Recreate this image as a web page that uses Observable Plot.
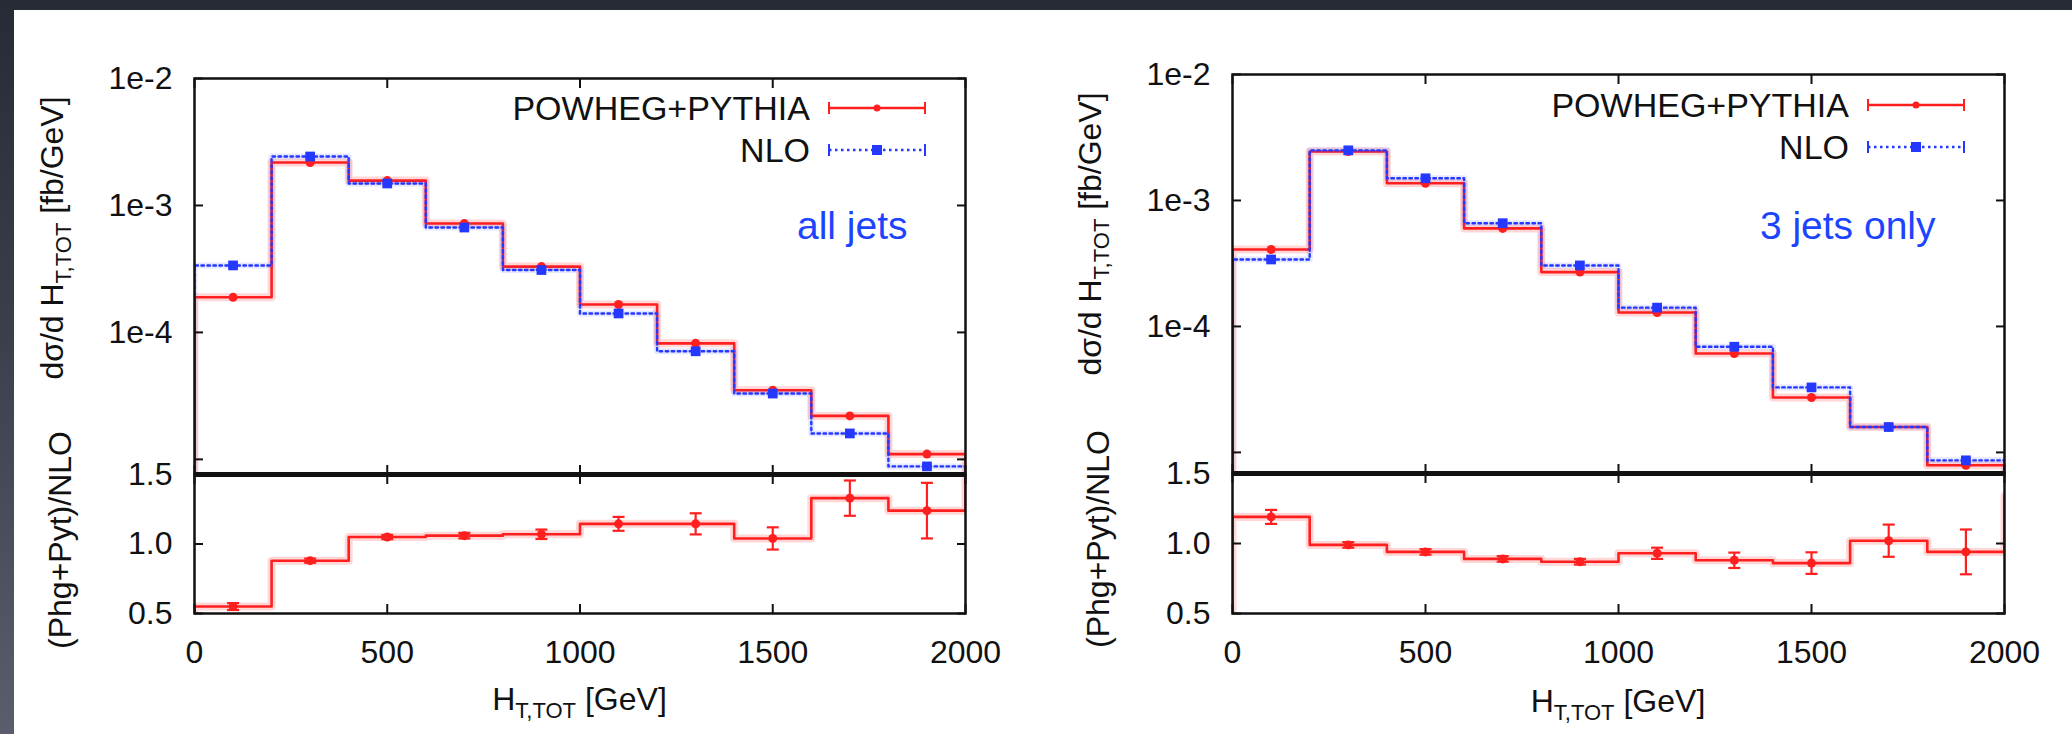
<!DOCTYPE html>
<html>
<head>
<meta charset="utf-8">
<script src="https://cdn.jsdelivr.net/npm/d3@7"></script>
<script src="https://cdn.jsdelivr.net/npm/@observablehq/plot@0.6"></script>
<style>
html, body { margin: 0; padding: 0; }
body {
  width: 2072px; height: 734px; overflow: hidden; position: relative;
  background: linear-gradient(180deg, #272b35 0%, #3b3f4c 45%, #5a5e6c 100%);
}
#sheet { position: absolute; left: 14px; top: 10px; right: 0; bottom: 0; background: #fff; }
</style>
</head>
<body>
<div id="sheet"></div>
<script>
// ---------------- data ----------------
const binEdges   = [0, 200, 400, 600, 800, 1000, 1200, 1400, 1600, 1800, 2000];
const binCenters = [100, 300, 500, 700, 900, 1100, 1300, 1500, 1700, 1900];
const xTicks = [0, 500, 1000, 1500, 2000];
const xTickLabels = ["0", "500", "1000", "1500", "2000"];
const logTicks = [1e-2, 1e-3, 1e-4, 1e-5];
const logTickLabels = ["1e-2", "1e-3", "1e-4", ""];
const ratioTicks = [0.5, 1.0, 1.5];
const ratioTickLabels = ["0.5", "1.0", "1.5"];

const seriesNames = ["POWHEG+PYTHIA", "NLO"];
const panelNotes = ["all jets", "3 jets only"];

// all jets
const allJetsPowheg = [1.89e-4, 2.18e-3, 1.57e-3, 7.2e-4, 3.3e-4, 1.66e-4, 8.2e-5, 3.5e-5, 2.2e-5, 1.1e-5];
const allJetsNLO    = [3.37e-4, 2.43e-3, 1.49e-3, 6.7e-4, 3.1e-4, 1.41e-4, 7.1e-5, 3.3e-5, 1.6e-5, 8.8e-6];
const allJetsRatio    = [0.55, 0.88, 1.05, 1.06, 1.07, 1.145, 1.145, 1.04, 1.33, 1.24];
const allJetsRatioErr = [0.025, 0.015, 0.015, 0.02, 0.034, 0.05, 0.076, 0.08, 0.127, 0.2];
const allJetsRatioNext = 1.62;

// 3 jets only
const threeJetsPowheg = [4.08e-4, 2.45e-3, 1.37e-3, 6.0e-4, 2.7e-4, 1.29e-4, 6.1e-5, 2.73e-5, 1.59e-5, 7.9e-6];
const threeJetsNLO    = [3.4e-4, 2.5e-3, 1.5e-3, 6.6e-4, 3.05e-4, 1.41e-4, 6.9e-5, 3.28e-5, 1.59e-5, 8.65e-6];
const threeJetsRatio    = [1.19, 0.99, 0.94, 0.89, 0.87, 0.93, 0.88, 0.86, 1.02, 0.94];
const threeJetsRatioErr = [0.05, 0.02, 0.02, 0.02, 0.02, 0.04, 0.055, 0.077, 0.115, 0.16];
const threeJetsRatioNext = 1.34;

// axis texts
const yLabelMain = "dσ/d H", yLabelSub = "T,TOT", yLabelUnit = " [fb/GeV]";
const ratioLabel = "(Phg+Pyt)/NLO";
const xLabelMain = "H", xLabelSub = "T,TOT", xLabelUnit = " [GeV]";

// ---------------- style ----------------
const FONT = '"Liberation Sans", Arial, Helvetica, sans-serif';
const RED = "#ff1f1f";
const BLUE = "#2438ff";
const NOTE_BLUE = "#1c44ff";
const INK = "#111";
const W = 1036;

const capSymbol = {
  draw(ctx, size) { const r = Math.sqrt(size / Math.PI); ctx.moveTo(-r, 0); ctx.lineTo(r, 0); }
};

function stepPoints(values, start, end) {
  const pts = [{x: binEdges[0], y: start}];
  values.forEach((v, i) => { pts.push({x: binEdges[i], y: v}, {x: binEdges[i + 1], y: v}); });
  pts.push({x: binEdges[binEdges.length - 1], y: end});
  return pts;
}

function frameTicks(xt, yt) {
  const common = {fill: "none", stroke: INK, strokeWidth: 2, tickSize: -9, label: null};
  return [
    Plot.axisX({...common, anchor: "top", ticks: xt}),
    Plot.axisX({...common, anchor: "bottom", ticks: xt}),
    Plot.axisY({...common, anchor: "left", ticks: yt}),
    Plot.axisY({...common, anchor: "right", ticks: yt})
  ];
}

function place(svg, left, top) {
  svg.style.position = "absolute";
  svg.style.left = left + "px";
  svg.style.top = top + "px";
  svg.style.overflow = "visible";
  svg.style.background = "transparent";
  svg.style.maxWidth = "none";
  document.body.appendChild(svg);
}

function makePanel(cfg) {
  const mL = cfg.frameLeft - cfg.x0, mR = cfg.x0 + W - cfg.frameRight;
  const rows = binCenters.map((x, i) => ({x, p: cfg.powheg[i], n: cfg.nlo[i], r: cfg.ratio[i], e: cfg.err[i]}));
  const logLabel = new Map(logTicks.map((t, i) => [t, logTickLabels[i]]));
  const ratioLabelMap = new Map(ratioTicks.map((t, i) => [t, ratioTickLabels[i]]));
  const xLabelMap = new Map(xTicks.map((t, i) => [t, xTickLabels[i]]));

  // ---- upper panel ----
  const upper = Plot.plot({
    width: W, height: cfg.sep,
    marginLeft: mL, marginRight: mR, marginTop: cfg.top, marginBottom: 0,
    x: {domain: [0, 2000]},
    y: {type: "log", domain: [cfg.logMin, 1e-2]},
    style: {fontFamily: FONT, fontSize: "32px", background: "transparent", color: INK},
    marks: [
      Plot.line(stepPoints(cfg.powheg, cfg.logMin, cfg.logMin), {x: "x", y: "y", stroke: RED, strokeWidth: 8, strokeOpacity: 0.18, clip: true}),
      Plot.line(stepPoints(cfg.powheg, cfg.logMin, cfg.logMin), {x: "x", y: "y", stroke: RED, strokeWidth: 2.6, clip: true}),
      Plot.line(stepPoints(cfg.nlo, cfg.logMin, cfg.logMin), {x: "x", y: "y", stroke: BLUE, strokeWidth: 6, strokeOpacity: 0.12, clip: true}),
      Plot.line(stepPoints(cfg.nlo, cfg.logMin, cfg.logMin), {x: "x", y: "y", stroke: BLUE, strokeWidth: 2.4, strokeDasharray: "2.5,3.5", clip: true}),
      Plot.dot(rows, {x: "x", y: "p", r: 4.5, fill: RED}),
      Plot.dot(rows, {x: "x", y: "n", symbol: "square", r: 5.5, fill: BLUE}),
      Plot.text([cfg.note], {text: d => d, frameAnchor: "top-right", textAnchor: "end", lineAnchor: "middle",
        dx: cfg.noteDx, dy: cfg.noteDy, fontSize: 39, fill: NOTE_BLUE, fontFamily: FONT}),
      ...frameTicks(xTicks, logTicks),
      Plot.axisY({anchor: "left", ticks: logTicks.slice(0, 3), tickSize: 0, tickPadding: 22,
        tickFormat: d => logLabel.get(d), fontSize: 32, label: null, fill: INK}),
      Plot.frame({stroke: INK, strokeWidth: 2.5})
    ]
  });

  // legend and y label (added text)
  const su = d3.select(upper);
  const lx = v => v - cfg.x0;
  const legendRows = [
    {name: seriesNames[0], color: RED, dy: cfg.legendDy[0], dash: null, square: false},
    {name: seriesNames[1], color: BLUE, dy: cfg.legendDy[1], dash: "2.5,3.5", square: true}
  ];
  legendRows.forEach(row => {
    const y = cfg.top + row.dy;
    su.append("text").attr("x", lx(cfg.frameRight - 155)).attr("y", y).attr("dy", "0.36em")
      .attr("text-anchor", "end").attr("font-family", FONT).attr("font-size", 34).attr("fill", INK).text(row.name);
    const x1 = lx(cfg.frameRight - 136), x2 = lx(cfg.frameRight - 40), xm = lx(cfg.frameRight - 88);
    su.append("line").attr("x1", x1).attr("x2", x2).attr("y1", y).attr("y2", y)
      .attr("stroke", row.color).attr("stroke-width", 2.6).attr("stroke-dasharray", row.dash);
    [x1, x2].forEach(x => su.append("line").attr("x1", x).attr("x2", x).attr("y1", y - 6).attr("y2", y + 6)
      .attr("stroke", row.color).attr("stroke-width", 2));
    if (row.square) su.append("rect").attr("x", xm - 5).attr("y", y - 5).attr("width", 10).attr("height", 10).attr("fill", row.color);
    else su.append("circle").attr("cx", xm).attr("cy", y).attr("r", 3.5).attr("fill", row.color);
  });
  const yl = su.append("text")
    .attr("transform", `translate(${lx(cfg.frameLeft - 131)},${cfg.top + 160}) rotate(-90)`)
    .attr("text-anchor", "middle").attr("font-family", FONT).attr("font-size", 32).attr("fill", INK);
  yl.append("tspan").text(yLabelMain);
  yl.append("tspan").attr("font-size", 22).attr("dy", 8).text(yLabelSub);
  yl.append("tspan").attr("dy", -8).text(yLabelUnit);
  place(upper, cfg.x0, 0);

  // ---- lower (ratio) panel ----
  const lower = Plot.plot({
    width: W, height: 734 - cfg.sep,
    marginLeft: mL, marginRight: mR, marginTop: 0, marginBottom: 734 - cfg.bottom,
    x: {domain: [0, 2000]},
    y: {domain: [0.5, 1.5]},
    style: {fontFamily: FONT, fontSize: "32px", background: "transparent", color: INK},
    marks: [
      Plot.line(stepPoints(cfg.ratio, 0.4, cfg.ratioNext), {x: "x", y: "y", stroke: RED, strokeWidth: 8, strokeOpacity: 0.18, clip: true}),
      Plot.line(stepPoints(cfg.ratio, 0.4, cfg.ratioNext), {x: "x", y: "y", stroke: RED, strokeWidth: 2.6, clip: true}),
      Plot.ruleX(rows, {x: "x", y1: d => d.r - d.e, y2: d => d.r + d.e, stroke: RED, strokeWidth: 2.2}),
      Plot.dot(rows, {x: "x", y: d => d.r + d.e, symbol: capSymbol, r: 6, fill: "none", stroke: RED, strokeWidth: 2.2}),
      Plot.dot(rows, {x: "x", y: d => d.r - d.e, symbol: capSymbol, r: 6, fill: "none", stroke: RED, strokeWidth: 2.2}),
      Plot.dot(rows, {x: "x", y: "r", r: 4.5, fill: RED}),
      ...frameTicks(xTicks, ratioTicks),
      Plot.axisY({anchor: "left", ticks: ratioTicks, tickSize: 0, tickPadding: 22,
        tickFormat: d => ratioLabelMap.get(d), fontSize: 32, label: null, fill: INK}),
      Plot.axisX({anchor: "bottom", ticks: xTicks, tickSize: 0, tickPadding: 27,
        tickFormat: d => xLabelMap.get(d), fontSize: 32, label: null, fill: INK}),
      Plot.frame({stroke: INK, strokeWidth: 2.5}),
      Plot.ruleY([1.5], {stroke: INK, strokeWidth: 5})
    ]
  });
  const sl = d3.select(lower);
  const cx = (cfg.frameLeft + cfg.frameRight) / 2 - cfg.x0;
  const xl = sl.append("text").attr("x", cx).attr("y", cfg.xLabelBaseline - cfg.sep)
    .attr("text-anchor", "middle").attr("font-family", FONT).attr("font-size", 32).attr("fill", INK);
  xl.append("tspan").text(xLabelMain);
  xl.append("tspan").attr("font-size", 22).attr("dy", 8).text(xLabelSub);
  xl.append("tspan").attr("dy", -8).text(xLabelUnit);
  sl.append("text")
    .attr("transform", `translate(${lx(cfg.frameLeft - 123)},${66}) rotate(-90)`)
    .attr("text-anchor", "middle").attr("font-family", FONT).attr("font-size", 32).attr("fill", INK)
    .text(ratioLabel);
  place(lower, cfg.x0, cfg.sep);
}

makePanel({
  x0: 0, frameLeft: 194, frameRight: 965, top: 78, sep: 474, bottom: 613, logMin: 7.6e-6,
  powheg: allJetsPowheg, nlo: allJetsNLO, ratio: allJetsRatio, err: allJetsRatioErr, ratioNext: allJetsRatioNext,
  note: panelNotes[0], noteDx: -58, noteDy: 148, legendDy: [30, 72], xLabelBaseline: 710
});
makePanel({
  x0: 1036, frameLeft: 1232, frameRight: 2004, top: 74, sep: 473, bottom: 613, logMin: 6.8e-6,
  powheg: threeJetsPowheg, nlo: threeJetsNLO, ratio: threeJetsRatio, err: threeJetsRatioErr, ratioNext: threeJetsRatioNext,
  note: panelNotes[1], noteDx: -69, noteDy: 152, legendDy: [31, 73], xLabelBaseline: 712
});
</script>
</body>
</html>
